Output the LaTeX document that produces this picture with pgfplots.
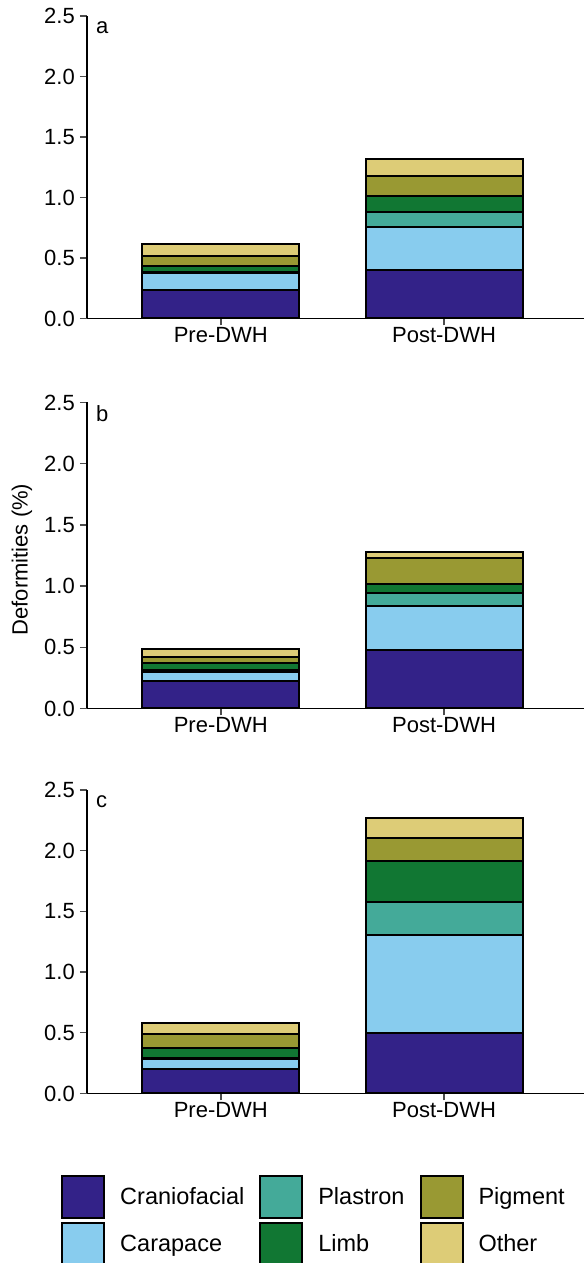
\documentclass[border=0pt]{standalone}
\usepackage{fontspec}
\setmainfont{Liberation Sans}
\usepackage{pgfplots}
\pgfplotsset{compat=1.18}

\definecolor{cranio}{HTML}{332288}
\definecolor{carap}{HTML}{88CCEE}
\definecolor{plast}{HTML}{44AA99}
\definecolor{limb}{HTML}{117733}
\definecolor{pigm}{HTML}{999933}
\definecolor{other}{HTML}{DDCC77}

\pgfplotsset{
  panel/.style={
    scale only axis,
    width=497bp,
    ybar stacked,
    bar width=0.703,
    xmin=-0.5995, xmax=1.627,
    ymin=0, ymax=2.5,
    axis x line*=bottom, axis y line*=left,
    axis line style={-, line width=1.8bp, black},
    xtick={0,1},
    xticklabels={Pre-DWH,Post-DWH},
    ytick={0,0.5,...,2.5},
    tick align=outside,
    major tick length=7bp,
    tick style={line width=1.4bp, black!70},
    xticklabel style={inner sep=2bp},
    yticklabel style={inner xsep=5bp, /pgf/number format/.cd, fixed, fixed zerofill, precision=1, assume math mode=true},
    every axis plot/.append style={draw=black, line width=2bp},
  },
}

\begin{document}
\begin{tikzpicture}[font=\fontsize{22bp}{26bp}\selectfont]
\useasboundingbox (0,0) rectangle (584bp,1263bp);

% panel a
\begin{axis}[panel, height=302.5bp, at={(87bp,944.5bp)}, anchor=south west]
  \addplot[fill=cranio] coordinates {(0,0.235) (1,0.400)};
  \addplot[fill=carap]  coordinates {(0,0.140) (1,0.355)};
  \addplot[fill=plast]  coordinates {(0,0.010) (1,0.125)};
  \addplot[fill=limb]   coordinates {(0,0.045) (1,0.130)};
  \addplot[fill=pigm]   coordinates {(0,0.090) (1,0.165)};
  \addplot[fill=other]  coordinates {(0,0.092) (1,0.140)};
  \node[anchor=base west, inner sep=0pt] at (rel axis cs:0,1) [xshift=9bp, yshift=-18bp] {a};
\end{axis}

% panel b
\begin{axis}[panel, height=306bp, at={(87bp,554.5bp)}, anchor=south west,
  ylabel={Deformities (\%)},
  ylabel style={at={(rel axis cs:0,0.5)}, anchor=center, yshift=65bp, xshift=-4bp}]
  \addplot[fill=cranio] coordinates {(0,0.227) (1,0.478)};
  \addplot[fill=carap]  coordinates {(0,0.070) (1,0.360)};
  \addplot[fill=plast]  coordinates {(0,0.020) (1,0.107)};
  \addplot[fill=limb]   coordinates {(0,0.052) (1,0.070)};
  \addplot[fill=pigm]   coordinates {(0,0.050) (1,0.212)};
  \addplot[fill=other]  coordinates {(0,0.063) (1,0.055)};
  \node[anchor=base west, inner sep=0pt] at (rel axis cs:0,1) [xshift=9bp, yshift=-19bp] {b};
\end{axis}

% panel c
\begin{axis}[panel, height=303.5bp, at={(87bp,169.5bp)}, anchor=south west]
  \addplot[fill=cranio] coordinates {(0,0.198) (1,0.500)};
  \addplot[fill=carap]  coordinates {(0,0.090) (1,0.805)};
  \addplot[fill=plast]  coordinates {(0,0.005) (1,0.272)};
  \addplot[fill=limb]   coordinates {(0,0.083) (1,0.340)};
  \addplot[fill=pigm]   coordinates {(0,0.113) (1,0.184)};
  \addplot[fill=other]  coordinates {(0,0.090) (1,0.165)};
  \node[anchor=base west, inner sep=0pt] at (rel axis cs:0,1) [xshift=9bp, yshift=-18bp] {c};
\end{axis}

% legend
\begin{axis}[scale only axis, width=584bp, height=1263bp, at={(0,0)}, anchor=south west,
  hide axis, xmin=0, xmax=1, ymin=0, ymax=1,
  legend columns=3,
  legend image code/.code={\draw[#1, draw=black, line width=2bp] (0bp,-21bp) rectangle (42bp,21bp);},
  legend style={at={(rel axis cs:0.1045,0.0697)}, anchor=north west, draw=none, fill=none,
    inner sep=0pt, column sep=15bp, row sep=3bp,
    nodes={inner sep=0pt, anchor=west}, font=\fontsize{23.5bp}{28bp}\selectfont},
  legend cell align=left]
  \addlegendimage{fill=cranio}\addlegendentry{Craniofacial}
  \addlegendimage{fill=plast}\addlegendentry{Plastron}
  \addlegendimage{fill=pigm}\addlegendentry{Pigment}
  \addlegendimage{fill=carap}\addlegendentry{Carapace}
  \addlegendimage{fill=limb}\addlegendentry{Limb}
  \addlegendimage{fill=other}\addlegendentry{Other}
\end{axis}
\end{tikzpicture}
\end{document}
